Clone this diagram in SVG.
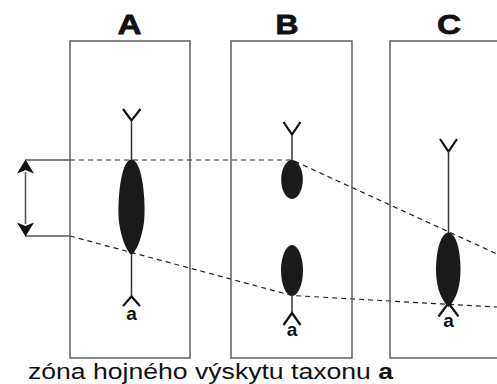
<svg xmlns="http://www.w3.org/2000/svg" width="497" height="384" viewBox="0 0 497 384">
<style>
.box{fill:none;stroke:#555;stroke-width:1.4}
.title{font-family:"Liberation Sans",Arial,sans-serif;font-weight:bold;font-size:28px;fill:#111;stroke:#111;stroke-width:0.8;text-anchor:middle}
.lab{font-family:"Liberation Sans",Arial,sans-serif;font-weight:bold;font-size:19px;fill:#111;text-anchor:middle}
.stem{stroke:#333;stroke-width:1.5;fill:none}
.glyph{stroke:#111;stroke-width:2.2;fill:none}
.blob{fill:#1a1a1a}
.dash{stroke:#222;stroke-width:1.2;fill:none;stroke-dasharray:5 4}
.solid{stroke:#555;stroke-width:1.4;fill:none}
.cap{font-family:"Liberation Sans",Arial,sans-serif;font-size:22px;fill:#111}
</style>
<g id="connectors">
<path class="dash" d="M70,160 L292,160 L497,254"/>
<path class="dash" d="M70,236 L292,295.5 L497,307"/>
<path class="solid" d="M25,160 L70,160 M25,236 L70,236"/>
<line x1="25.5" y1="172" x2="25.5" y2="224" stroke="#555" stroke-width="1.6"/>
<path d="M25.5,159.5 L34,173.5 L25.5,170 L17,173.5 Z" fill="#111"/>
<path d="M25.5,236.5 L34,222.5 L25.5,226 L17,222.5 Z" fill="#111"/>
</g>
<g id="A">
<rect class="box" x="70" y="41" width="120" height="317"/>
<text class="title" x="129.5" y="34" textLength="24" lengthAdjust="spacingAndGlyphs">A</text>
<path class="glyph" d="M123,109 L131.5,120.5 L140.5,109"/>
<line class="stem" x1="131.5" y1="120" x2="131.5" y2="162"/>
<path class="blob" d="M131.5,159.5 C143,160 146,205 144,222 C142,238 136,252 131.5,255 C127,252 121,238 119,222 C117,205 120,160 131.5,159.5 Z"/>
<line class="stem" x1="131.5" y1="254" x2="131.5" y2="298"/>
<path class="glyph" d="M123,306 L131.5,296.5 L140,306"/>
<text class="lab" x="131.5" y="320">a</text>
</g>
<g id="B">
<rect class="box" x="231" y="41" width="121" height="317"/>
<text class="title" x="287" y="34" textLength="23" lengthAdjust="spacingAndGlyphs">B</text>
<path class="glyph" d="M283.5,122 L292,134.5 L300.5,122"/>
<line class="stem" x1="292" y1="134" x2="292" y2="162"/>
<ellipse class="blob" cx="292" cy="179.5" rx="10.8" ry="19.5"/>
<ellipse class="blob" cx="292" cy="270.5" rx="11" ry="25.5"/>
<line class="stem" x1="292" y1="295" x2="292" y2="313"/>
<path class="glyph" d="M283.5,325 L292,313 L300.5,325"/>
<text class="lab" x="292" y="336">a</text>
</g>
<g id="C">
<rect class="box" x="390" y="41" width="120" height="317"/>
<text class="title" x="449" y="34" textLength="24" lengthAdjust="spacingAndGlyphs">C</text>
<path class="glyph" d="M440,139 L448.5,151.5 L457,139"/>
<line class="stem" x1="448.5" y1="151" x2="448.5" y2="235"/>
<path class="glyph" d="M438.5,316.5 L448.5,303 L458.5,316.5"/>
<path class="blob" d="M448.5,232.5 C456,233 460.5,250 460.5,270 C460.5,290 454,302 448.5,307 C443,302 436,290 436,270 C436,250 441,233 448.5,232.5 Z"/>
<text class="lab" x="448.5" y="327">a</text>
</g>
<g id="caption">
<text class="cap" x="28" y="379" textLength="365" lengthAdjust="spacingAndGlyphs">zóna hojného výskytu taxonu <tspan font-weight="bold">a</tspan></text>
</g>
</svg>
